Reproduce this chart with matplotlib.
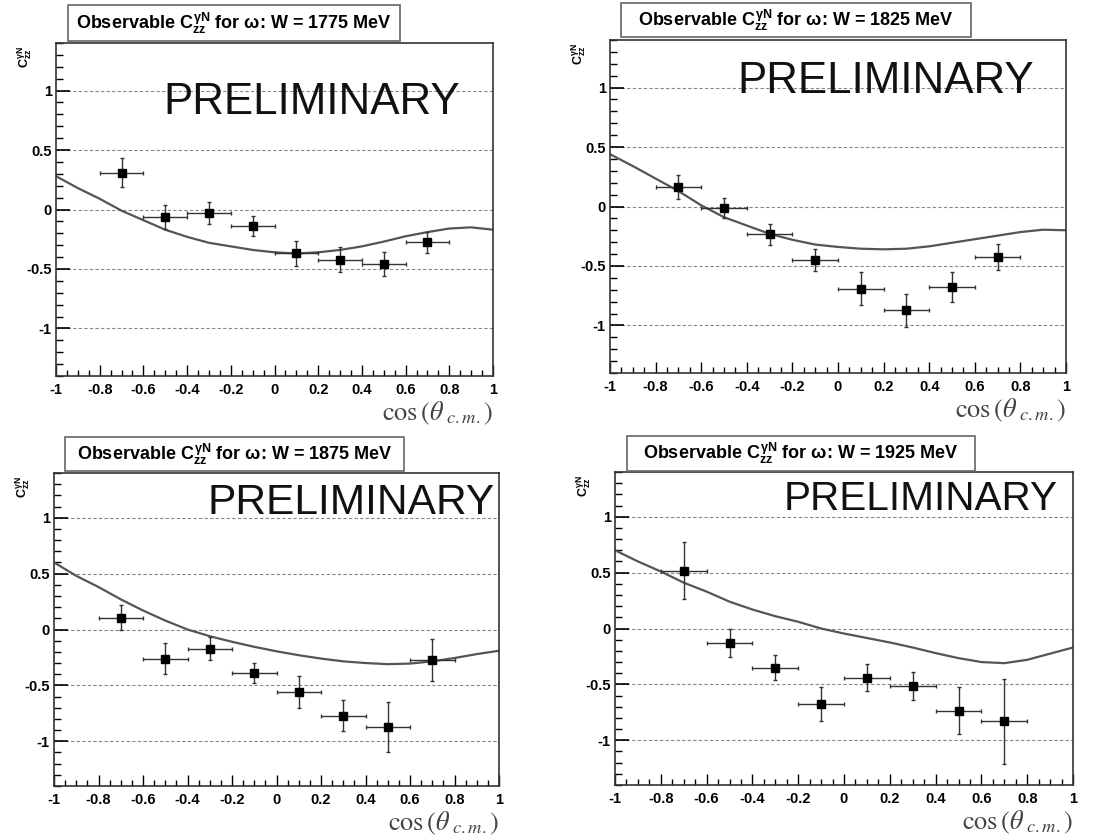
import numpy as np
import matplotlib
matplotlib.use("Agg")
import matplotlib.pyplot as plt
from matplotlib.patches import Rectangle
from matplotlib.ticker import MultipleLocator

plt.rcParams['font.family'] = ['Liberation Sans', 'DejaVu Sans']
plt.rcParams['mathtext.fontset'] = 'custom'
plt.rcParams['mathtext.rm'] = 'Liberation Sans:bold'
plt.rcParams['mathtext.it'] = 'Liberation Sans:bold'
plt.rcParams['mathtext.bf'] = 'Liberation Sans:bold'

# data points (bin centres, half-width 0.1)
cos_x = [-0.7, -0.5, -0.3, -0.1, 0.1, 0.3, 0.5, 0.7]
x_err = [0.1] * 8
energies = [1775, 1825, 1875, 1925]

c_1775 = [0.31, -0.065, -0.033, -0.14, -0.368, -0.423, -0.46, -0.275]
e_1775 = [0.125, 0.10, 0.093, 0.085, 0.105, 0.106, 0.10, 0.09]
c_1825 = [0.165, -0.014, -0.235, -0.45, -0.69, -0.874, -0.676, -0.425]
e_1825 = [0.10, 0.085, 0.087, 0.09, 0.14, 0.14, 0.125, 0.11]
c_1875 = [0.107, -0.26, -0.17, -0.39, -0.56, -0.77, -0.873, -0.275]
e_1875 = [0.11, 0.135, 0.10, 0.09, 0.14, 0.135, 0.22, 0.19]
c_1925 = [0.516, -0.128, -0.35, -0.674, -0.44, -0.513, -0.736, -0.828]
e_1925 = [0.255, 0.125, 0.115, 0.15, 0.12, 0.125, 0.21, 0.38]

curve_x = [-1.0, -0.9, -0.8, -0.7, -0.6, -0.5, -0.4, -0.3, -0.2, -0.1, 0.0,
           0.1, 0.2, 0.3, 0.4, 0.5, 0.6, 0.7, 0.8, 0.9, 1.0]
curve_1775 = [0.28, 0.18, 0.09, -0.01, -0.09, -0.17, -0.23, -0.28, -0.31, -0.34, -0.36,
              -0.37, -0.36, -0.34, -0.31, -0.27, -0.225, -0.19, -0.16, -0.15, -0.17]
curve_1825 = [0.44, 0.34, 0.235, 0.13, 0.01, -0.09, -0.16, -0.23, -0.28, -0.32, -0.34,
              -0.355, -0.36, -0.355, -0.335, -0.305, -0.275, -0.245, -0.215, -0.195, -0.2]
curve_1875 = [0.6, 0.48, 0.38, 0.27, 0.17, 0.08, 0.0, -0.06, -0.11, -0.155, -0.195,
              -0.23, -0.26, -0.285, -0.30, -0.31, -0.305, -0.285, -0.255, -0.22, -0.19]
curve_1925 = [0.70, 0.60, 0.51, 0.41, 0.33, 0.24, 0.17, 0.11, 0.06, 0.0, -0.045,
              -0.085, -0.125, -0.17, -0.22, -0.265, -0.30, -0.31, -0.28, -0.225, -0.17]

values = [c_1775, c_1825, c_1875, c_1925]
errors = [e_1775, e_1825, e_1875, e_1925]
curves = [curve_1775, curve_1825, curve_1875, curve_1925]

W, H = 1106, 840
fig = plt.figure(figsize=(W / 100, H / 100), dpi=100)

# pixel layout: axes (left, right, top, bottom), title box (left, right, top, bottom)
axes_px = [(56, 493, 43, 376), (610, 1066, 40, 373), (54, 499, 473, 786), (615, 1073, 472, 785)]
title_px = [(68, 400, 5, 41), (621, 971, 3, 37), (65, 404, 437, 471), (627, 975, 436, 471)]
prelim_pos = [(-0.51, 0.9), (-0.44, 1.05), (-0.31, 1.13), (-0.264, 1.16)]
prelim_size = [31.6, 31.6, 30.6, 29.2]


def fx(px):
    return px / W


def fy(py):
    return 1 - py / H


for i in range(4):
    l, r, t, b = axes_px[i]
    ax = fig.add_axes([fx(l), fy(b), fx(r) - fx(l), fy(t) - fy(b)])
    ax.plot(curve_x, curves[i], color='#555555', lw=1.6, zorder=2)
    ax.errorbar(cos_x, values[i], xerr=x_err, yerr=errors[i], fmt='s', color='black',
                ms=5.5, ecolor='#333333', elinewidth=1.0, capsize=1.5, capthick=1.0, zorder=3)
    ax.set_xlim(-1, 1)
    ax.set_ylim(-1.4, 1.4)
    ax.xaxis.set_minor_locator(MultipleLocator(0.05))
    ax.yaxis.set_minor_locator(MultipleLocator(0.1))
    ax.set_xticks([-1, -0.8, -0.6, -0.4, -0.2, 0, 0.2, 0.4, 0.6, 0.8, 1])
    ax.set_xticklabels(['-1', '-0.8', '-0.6', '-0.4', '-0.2', '0', '0.2', '0.4', '0.6', '0.8', '1'])
    ax.set_yticks([-1, -0.5, 0, 0.5, 1])
    ax.set_yticklabels(['-1', '-0.5', '0', '0.5', '1'])
    ax.tick_params(which='both', direction='in', top=False, right=False, colors='black',
                   labelsize=10.5)
    ax.tick_params(axis='x', which='major', length=8, width=1, pad=5)
    ax.tick_params(axis='x', which='minor', length=4, width=1)
    ax.tick_params(axis='y', which='major', length=10, width=1.2, pad=3)
    ax.tick_params(axis='y', which='minor', length=5, width=1)
    for lab in ax.get_xticklabels() + ax.get_yticklabels():
        lab.set_fontweight('bold')
    ax.grid(axis='y', which='major', color='#888888', ls=(0, (3, 2)), lw=0.8)
    for s in ax.spines.values():
        s.set_color('#333333')
        s.set_linewidth(1.2)

    px_, py_ = prelim_pos[i]
    ax.text(px_, py_, 'PRELIMINARY', fontsize=prelim_size[i], va='center', ha='left',
            color='#111111')

    # x label
    fig.text(fx(r), fy(b + 37), r'$\cos\left(\theta_{\ c.m.}\right)$', ha='right', va='center',
             fontsize=19, color='#444444', math_fontfamily='stix')
    # y label
    fig.text(fx(l - 31), fy(t + 14), r'$C_{zz}^{\gamma N}$', rotation=90, ha='center',
             va='center', fontsize=9)

    # title box
    tl, tr, tt, tb = title_px[i]
    fig.patches.append(Rectangle((fx(tl), fy(tb)), fx(tr) - fx(tl), fy(tt) - fy(tb),
                                 transform=fig.transFigure, fill=False,
                                 edgecolor='#666666', lw=1.2))
    fig.text((fx(tl) + fx(tr)) / 2, (fy(tt) + fy(tb)) / 2,
             r'Observable $C_{zz}^{\gamma N}$ for ω: W = %d MeV' % energies[i],
             ha='center', va='center', fontsize=13, fontweight='bold')

fig.savefig('out.png', dpi=100, facecolor='white')
